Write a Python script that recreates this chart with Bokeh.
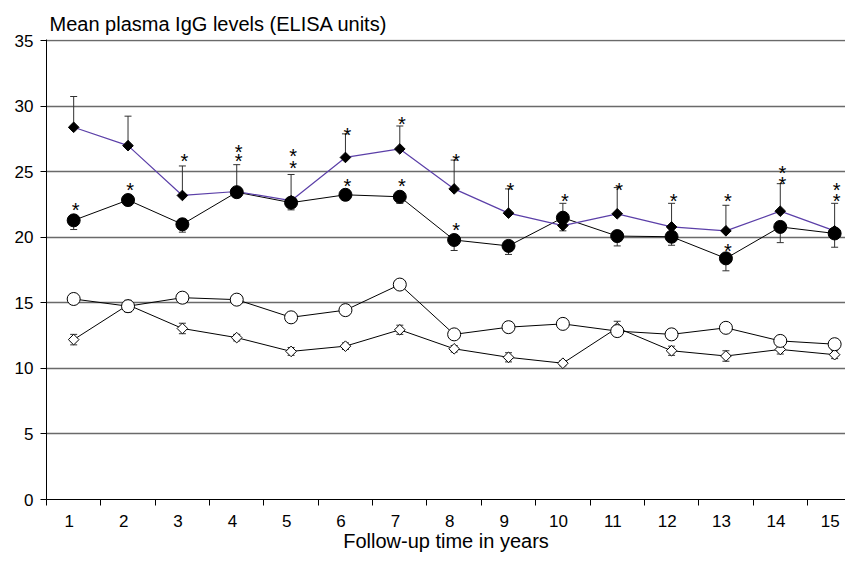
import numpy as np
from bokeh.plotting import figure
from bokeh.models import Range1d, FixedTicker, ColumnDataSource
from bokeh.core.properties import value
from bokeh.embed import file_html
from bokeh.resources import INLINE

# ---- data ----
years = list(range(1, 16))
year_labels = [str(y) for y in years]

# filled diamonds (purple line), SE drawn upward
s1 = [28.4, 27.0, 23.2, 23.5, 22.8, 26.1, 26.75, 23.7, 21.85, 20.9, 21.8, 20.8, 20.5, 22.0, 20.5]
s1_err = [2.35, 2.25, 2.25, 2.05, 2.0, 1.8, 1.75, 2.2, 1.85, 1.7, 2.0, 1.8, 1.95, 2.1, 2.1]

# filled circles, SE drawn downward
s2 = [21.3, 22.85, 21.0, 23.45, 22.65, 23.25, 23.1, 19.8, 19.35, 21.5, 20.1, 20.05, 18.4, 20.8, 20.3]
s2_err = [0.7, 0.4, 0.6, 0.4, 0.55, 0.4, 0.5, 0.8, 0.65, 1.0, 0.75, 0.65, 0.95, 1.2, 1.05]

# open circles
s3 = [15.3, 14.75, 15.4, 15.25, 13.9, 14.45, 16.4, 12.6, 13.15, 13.4, 12.85, 12.6, 13.1, 12.1, 11.85]
s3_err = [0.2, 0.45, 0.2, 0.2, 0.4, 0.2, 0.2, 0.2, 0.2, 0.2, 0.3, 0.2, 0.2, 0.2, 0.2]

# open diamonds
s4 = [12.2, 14.85, 13.05, 12.35, 11.3, 11.7, 12.95, 11.5, 10.85, 10.4, 13.1, 11.35, 10.95, 11.45, 11.05]
s4_err = [0.4, 0.3, 0.4, 0.25, 0.3, 0.25, 0.35, 0.25, 0.35, 0.2, 0.5, 0.35, 0.4, 0.35, 0.3]

# significance asterisks (year, level)
star_x = [1, 2, 3, 4, 4, 5, 5, 6, 6, 7, 7, 8, 8, 9, 10, 11, 12, 13, 13, 14, 14, 15, 15]
star_y = [22.55, 24.1, 26.25, 27.0, 26.25, 26.7, 25.75, 28.25, 24.35, 29.1, 24.35, 26.25, 21.0,
          24.1, 23.25, 24.1, 23.25, 23.25, 19.45, 25.35, 24.5, 24.1, 23.25]

y_ticks = [0, 5, 10, 15, 20, 25, 30, 35]

FONT = "Liberation Sans"
PURPLE = "#5b3fa8"
GRID = "#6a6a6a"

p = figure(width=845, height=554, output_backend="svg", toolbar_location=None,
           x_range=Range1d(0.5, 15.2), y_range=Range1d(0, 35.1),
           min_border_left=46, min_border_right=0, min_border_top=39, min_border_bottom=48)
p.outline_line_color = None
p.background_fill_color = "white"
p.border_fill_color = "white"

p.title.text = "Mean plasma IgG levels (ELISA units)"
p.title.text_font = FONT
p.title.text_font_size = "20px"
p.title.text_font_style = "normal"
p.title.text_color = "black"
p.title.align = "left"
p.title.offset = 3
p.title.standoff = 9

# grid
p.xgrid.visible = False
p.ygrid.ticker = FixedTicker(ticks=y_ticks[1:])
p.ygrid.grid_line_color = GRID
p.ygrid.grid_line_width = 1.3

# y axis
p.yaxis.ticker = FixedTicker(ticks=y_ticks)
p.yaxis.major_tick_out = 6
p.yaxis.major_tick_in = 0
p.yaxis.minor_tick_line_color = None
p.yaxis.axis_line_color = "black"
p.yaxis.major_tick_line_color = "black"
p.yaxis.major_label_text_font = FONT
p.yaxis.major_label_text_font_size = "17px"
p.yaxis.major_label_text_color = "black"
p.yaxis.major_label_standoff = 7

# x axis: labels at years, tick marks at category boundaries
label_pos = [y - 0.08 for y in years]
p.xaxis.ticker = FixedTicker(ticks=label_pos, minor_ticks=[y - 0.5 for y in years])
p.xaxis.major_label_overrides = {lp: lab for lp, lab in zip(label_pos, year_labels)}
p.xaxis.major_tick_out = 0
p.xaxis.major_tick_in = 0
p.xaxis.minor_tick_out = 6
p.xaxis.minor_tick_in = 0
p.xaxis.minor_tick_line_color = "black"
p.xaxis.axis_line_color = "black"
p.xaxis.major_label_text_font = FONT
p.xaxis.major_label_text_font_size = "17px"
p.xaxis.major_label_text_color = "black"
p.xaxis.major_label_standoff = 9
p.xaxis.axis_label = "Follow-up time in years"
p.xaxis.axis_label_text_font = FONT
p.xaxis.axis_label_text_font_size = "20px"
p.xaxis.axis_label_text_font_style = "normal"
p.xaxis.axis_label_text_color = "black"
p.xaxis.axis_label_standoff = 0

x = np.array(years, dtype=float)
a1, e1 = np.array(s1), np.array(s1_err)
a2, e2 = np.array(s2), np.array(s2_err)
a3, e3 = np.array(s3), np.array(s3_err)
a4, e4 = np.array(s4), np.array(s4_err)

ERR = "#303030"
def errbar(lo, hi, caps):
    p.segment(x0=x, y0=lo, x1=x, y1=hi, line_color=ERR, line_width=1)
    for c in caps:
        p.scatter(x=x, y=c, marker="dash", size=7, line_color=ERR, line_width=1)

errbar(a4 - e4, a4 + e4, [a4 - e4, a4 + e4])
errbar(a3 - e3, a3 + e3, [a3 - e3, a3 + e3])
errbar(a2 - e2, a2, [a2 - e2])
errbar(a1, a1 + e1, [a1 + e1])

p.line(x, a4, line_color="black", line_width=1)
p.line(x, a3, line_color="black", line_width=1)
p.line(x, a2, line_color="black", line_width=1)
p.line(x, a1, line_color=PURPLE, line_width=1.2)

p.scatter(x, a4, marker="square", angle=np.pi / 4, size=7.5,
          fill_color="white", line_color="black", line_width=1)
p.scatter(x, a3, marker="circle", size=13,
          fill_color="white", line_color="black", line_width=1)
p.scatter(x, a2, marker="circle", size=13,
          fill_color="black", line_color="black", line_width=1)
p.scatter(x, a1, marker="square", angle=np.pi / 4, size=7.5,
          fill_color="black", line_color="black", line_width=1)

stars = ColumnDataSource(dict(x=star_x, y=star_y, t=["*"] * len(star_x)))
p.text(x="x", y="y", text="t", source=stars, text_font=value(FONT),
       text_font_size="20px", text_align="center", text_baseline="middle",
       text_color="black", x_offset=2, y_offset=6)

open("out.html", "w").write(file_html(p, INLINE))
